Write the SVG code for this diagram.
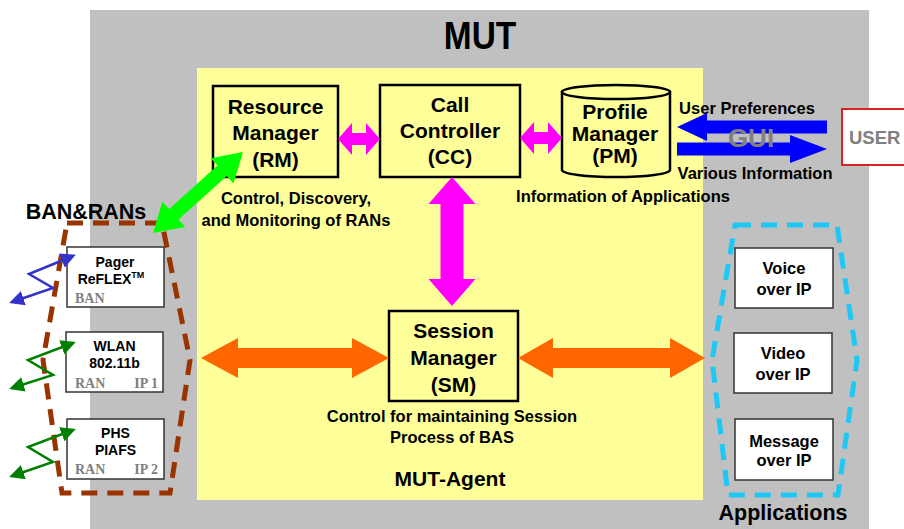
<svg xmlns="http://www.w3.org/2000/svg" width="904" height="529" viewBox="0 0 904 529">
<defs>
<style>
text{font-family:"Liberation Sans",Arial,sans-serif;font-weight:bold;fill:#000;text-anchor:middle}
.box{fill:#ffff99;stroke:#000;stroke-width:2.5}
.wbox{fill:#fff;stroke:#333;stroke-width:1.5}
.big{font-size:21px}
.lbl{font-size:16.5px}
.sm{font-size:14px}
.app{font-size:16.5px}
.ser{font-family:"Liberation Serif","Times New Roman",serif;font-size:14px;fill:#808080}
.zb{fill:none;stroke:#3333cc;stroke-width:2.5}
.zg{fill:none;stroke:#008000;stroke-width:2.5}
</style>
<marker id="hb" viewBox="0 0 10 10" refX="8" refY="5" markerWidth="6" markerHeight="6" orient="auto-start-reverse" markerUnits="strokeWidth"><path d="M0,0 L10,5 L0,10 Z" fill="#3333cc"/></marker>
<marker id="hg" viewBox="0 0 10 10" refX="8" refY="5" markerWidth="6" markerHeight="6" orient="auto-start-reverse" markerUnits="strokeWidth"><path d="M0,0 L10,5 L0,10 Z" fill="#008000"/></marker>
</defs>

<g id="mut">
<rect x="90" y="10" width="779" height="519" fill="#c0c0c0"/>
<text x="480" y="49" font-size="38" transform="translate(480 0) scale(0.88 1) translate(-480 0)">MUT</text>
</g>

<g id="mut-agent">
<rect x="197" y="68" width="506" height="432" fill="#ffff99"/>
<text x="450" y="486" class="big">MUT-Agent</text>
</g>

<g id="rm">
<rect class="box" x="213" y="86" width="125" height="91"/>
<text x="275.5" y="114" class="big">Resource</text>
<text x="275.5" y="140" class="big">Manager</text>
<text x="275.5" y="167" class="big">(RM)</text>
<text x="296" y="204" class="lbl">Control, Discovery,</text>
<text x="296" y="226" class="lbl">and Monitoring of RANs</text>
</g>

<g id="cc">
<rect class="box" x="380" y="85" width="140" height="92"/>
<text x="450" y="112" class="big">Call</text>
<text x="450" y="138" class="big">Controller</text>
<text x="450" y="164" class="big">(CC)</text>
</g>

<g id="pm">
<path d="M562,92 L562,170 A54,7 0 0 0 670,170 L670,92 Z" fill="#ffff99" stroke="#000" stroke-width="2.5"/>
<ellipse cx="616" cy="92" rx="54" ry="7" fill="#ffff99" stroke="#000" stroke-width="2.5"/>
<text x="615" y="119" class="big">Profile</text>
<text x="615" y="141" class="big">Manager</text>
<text x="615" y="163" class="big">(PM)</text>
<text x="623" y="202" class="lbl">Information of Applications</text>
<text x="747" y="114" class="lbl">User Preferences</text>
<text x="755" y="179" class="lbl">Various Information</text>
</g>

<g id="user">
<rect x="842" y="109" width="70" height="56" fill="#fff" stroke="#dd2222" stroke-width="2"/>
<text x="849" y="144" font-size="18.5" style="text-anchor:start;fill:#808080">USER</text>
</g>

<g id="sm">
<rect class="box" x="389" y="311" width="129" height="90"/>
<text x="453.5" y="338" class="big">Session</text>
<text x="453.5" y="365" class="big">Manager</text>
<text x="453.5" y="392" class="big">(SM)</text>
<text x="452" y="422" class="lbl">Control for maintaining Session</text>
<text x="452" y="443" class="lbl">Process of BAS</text>
</g>

<g id="ban-rans">
<path d="M67,223 L162,223 L190,360 L170,493 L62,493 L43,360 Z" fill="none" stroke="#993300" stroke-width="5" stroke-dasharray="16,10"/>
<text x="86" y="219" font-size="21.5">BAN&amp;RANs</text>
</g>

<g id="pager">
<rect class="wbox" x="67" y="247" width="97" height="60"/>
<text x="115" y="267" class="sm">Pager</text>
<text x="111" y="284" class="sm">ReFLEX<tspan font-size="9" dy="-6">TM</tspan></text>
<text x="75" y="303" class="ser" style="text-anchor:start">BAN</text>
</g>

<g id="wlan">
<rect class="wbox" x="66" y="332" width="97" height="60"/>
<text x="114.5" y="351" class="sm">WLAN</text>
<text x="114.5" y="368" class="sm">802.11b</text>
<text x="75" y="388" class="ser" style="text-anchor:start">RAN</text>
<text x="158" y="388" class="ser" style="text-anchor:end">IP 1</text>
</g>

<g id="phs">
<rect class="wbox" x="67" y="419" width="97" height="60"/>
<text x="115.5" y="438" class="sm">PHS</text>
<text x="115.5" y="455" class="sm">PIAFS</text>
<text x="75" y="474" class="ser" style="text-anchor:start">RAN</text>
<text x="158" y="474" class="ser" style="text-anchor:end">IP 2</text>
</g>

<g id="applications">
<path d="M735,225 L837,225 L857,360 L838,495 L728,495 L712,360 Z" fill="none" stroke="#1ec8f5" stroke-width="5" stroke-dasharray="16,10"/>
<text x="783" y="520" font-size="21.5">Applications</text>
</g>

<g id="voip">
<rect class="wbox" x="735" y="248" width="98" height="60"/>
<text x="784" y="274" class="app">Voice</text>
<text x="784" y="295" class="app">over IP</text>
</g>

<g id="video">
<rect class="wbox" x="734" y="333" width="98" height="60"/>
<text x="783" y="359" class="app">Video</text>
<text x="783" y="380" class="app">over IP</text>
</g>

<g id="message">
<rect class="wbox" x="735" y="419" width="98" height="61"/>
<text x="784" y="447" class="app">Message</text>
<text x="784" y="466" class="app">over IP</text>
</g>

<g id="connectors">
<path d="M0,0 L28,-17 L28,-7 L93,-7 L93,-17 L121,0 L93,17 L93,7 L28,7 L28,17 Z" fill="#00ff00" transform="translate(153 233) rotate(-42)"/>
<path d="M0,0 L14,-16 L14,-6 L28,-6 L28,-16 L42,0 L28,16 L28,6 L14,6 L14,16 Z" fill="#ff00ff" transform="translate(338 139)"/>
<path d="M0,0 L14,-16 L14,-6 L28,-6 L28,-16 L42,0 L28,16 L28,6 L14,6 L14,16 Z" fill="#ff00ff" transform="translate(520 138)"/>
<path d="M0,0 L27,-23.5 L27,-11.5 L102,-11.5 L102,-23.5 L129,0 L102,23.5 L102,11.5 L27,11.5 L27,23.5 Z" fill="#ff00ff" transform="translate(452 177) rotate(90)"/>
<path d="M0,0 L37,-20 L37,-10 L151,-10 L151,-20 L188,0 L151,20 L151,10 L37,10 L37,20 Z" fill="#ff6600" transform="translate(201 358)"/>
<path d="M0,0 L35,-20 L35,-10 L152,-10 L152,-20 L187,0 L152,20 L152,10 L35,10 L35,20 Z" fill="#ff6600" transform="translate(518 358)"/>
<path d="M677,127 L707,113 L707,120.5 L827,120.5 L827,133.5 L707,133.5 L707,141 Z" fill="#0000ff"/>
<path d="M827,149 L790,135 L790,142.5 L677,142.5 L677,155.5 L790,155.5 L790,163 Z" fill="#0000ff"/>
<text x="751" y="147" font-size="26" style="fill:#808080">GUI</text>
<polyline class="zb" points="73,256 29,274 53,288 12,302" marker-start="url(#hb)" marker-end="url(#hb)"/>
<polyline class="zg" points="73,343 28,360 53,375 12,388" marker-start="url(#hg)" marker-end="url(#hg)"/>
<polyline class="zg" points="73,430 28,447 53,462 12,476" marker-start="url(#hg)" marker-end="url(#hg)"/>
</g>
</svg>
